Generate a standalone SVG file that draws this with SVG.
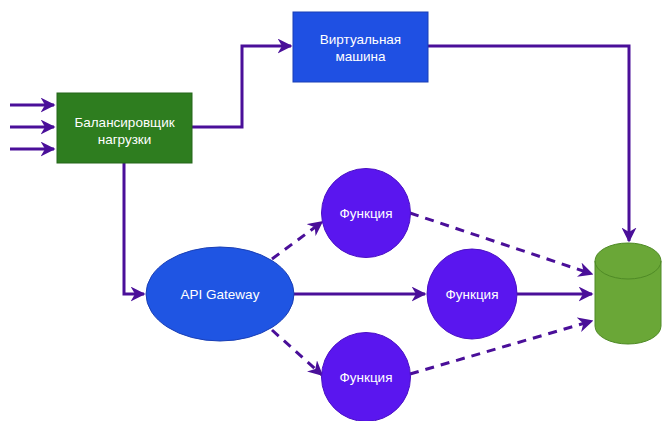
<svg xmlns="http://www.w3.org/2000/svg" width="662" height="421" viewBox="0 0 662 421">
  <style>
    .lbl { font-family: "Liberation Sans", Arial, sans-serif; font-size: 13.5px; fill: #ffffff; text-anchor: middle; }
    .edge { fill: none; stroke: #4a0f99; stroke-width: 3; }
    .dash { stroke-dasharray: 9 7; }
  </style>
  <defs>
    <marker id="arrow" viewBox="0 0 10 10" refX="9" refY="5" markerWidth="5" markerHeight="5" orient="auto" markerUnits="strokeWidth">
      <path d="M0,0 L10,5 L0,10 L3,5 z" fill="#4a0f99"/>
    </marker>
  </defs>
  <rect width="662" height="421" fill="#ffffff"/>

  <g id="connectors">
    <!-- incoming traffic -->
    <path class="edge" d="M10,105 H54" marker-end="url(#arrow)"/>
    <path class="edge" d="M10,127 H54" marker-end="url(#arrow)"/>
    <path class="edge" d="M10,149 H54" marker-end="url(#arrow)"/>
    <!-- balancer to VM -->
    <path class="edge" d="M192,127 H242 V46 H291" marker-end="url(#arrow)"/>
    <!-- VM to storage -->
    <path class="edge" d="M428,46 H629 V241" marker-end="url(#arrow)"/>
    <!-- balancer to gateway -->
    <path class="edge" d="M124,163 V294 H144" marker-end="url(#arrow)"/>
    <!-- gateway to functions -->
    <path class="edge dash" d="M272,259 L322,222" marker-end="url(#arrow)"/>
    <path class="edge" d="M294,294 H425" marker-end="url(#arrow)"/>
    <path class="edge dash" d="M272,330 L322,375" marker-end="url(#arrow)"/>
    <!-- functions to storage -->
    <path class="edge dash" d="M410,213 L592,274" marker-end="url(#arrow)"/>
    <path class="edge" d="M517,294 H592" marker-end="url(#arrow)"/>
    <path class="edge dash" d="M410,374 L592,321" marker-end="url(#arrow)"/>
  </g>

  <g id="balancer">
    <rect x="57" y="93" width="135" height="70" fill="#2e7d1f" stroke="#25661a" stroke-width="1"/>
    <text class="lbl" x="124.5" y="126.5">Балансировщик</text>
    <text class="lbl" x="124.5" y="143.5">нагрузки</text>
  </g>

  <g id="vm">
    <rect x="293" y="12" width="135" height="70" fill="#1f50e3" stroke="#1a3fb5" stroke-width="1"/>
    <text class="lbl" x="360.5" y="43.5">Виртуальная</text>
    <text class="lbl" x="360.5" y="60.5">машина</text>
  </g>

  <g id="gateway">
    <ellipse cx="220" cy="294" rx="74" ry="47" fill="#1f55e3" stroke="#1a3fb5" stroke-width="1"/>
    <text class="lbl" x="220" y="299">API Gateway</text>
  </g>

  <g id="func-top">
    <circle cx="366" cy="213" r="44.5" fill="#5a16ef" stroke="#4a10c4" stroke-width="1"/>
    <text class="lbl" x="366" y="218">Функция</text>
  </g>

  <g id="func-mid">
    <circle cx="472" cy="294" r="45" fill="#5a16ef" stroke="#4a10c4" stroke-width="1"/>
    <text class="lbl" x="472" y="299">Функция</text>
  </g>

  <g id="func-bottom">
    <circle cx="366" cy="377" r="44.5" fill="#5a16ef" stroke="#4a10c4" stroke-width="1"/>
    <text class="lbl" x="366" y="382">Функция</text>
  </g>

  <g id="storage">
    <path d="M595,261 A33,18 0 0 1 661,261 V326 A33,18 0 0 1 595,326 Z" fill="#6aa737" stroke="#4f8a26" stroke-width="1"/>
    <path d="M595,261 A33,18 0 0 0 661,261" fill="none" stroke="#4f8a26" stroke-width="1"/>
  </g>
</svg>
